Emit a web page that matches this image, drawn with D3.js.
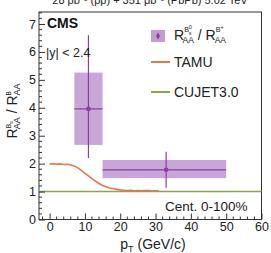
<!DOCTYPE html>
<html><head><meta charset="utf-8">
<script src="https://cdn.jsdelivr.net/npm/d3@7"></script>
<style>body{margin:0;background:#fff}svg{display:block;font-family:"Liberation Sans",Arial,sans-serif}</style>
</head><body>
<svg id="c" width="271" height="253"></svg>
<script>
// Data
const xTicks = [0,10,20,30,40,50,60];
const yTicks = [0,1,2,3,4,5,6,7];
const ptCenters = [11, 33];
const ptLow = [7, 15];
const ptHigh = [15, 50];
const ratio = [3.96, 1.78];
const statLow = [2.2, 1.14];
const statHigh = [6.6, 2.43];
const systLow = [2.67, 1.48];
const systHigh = [5.26, 2.13];
const tamuX = [0,1,2,3,4,5,6,7,8,9,10,11,12,13,14,15,16,17,18,19,20,21,22,23,24,25,26,27,28,29,30,31];
const tamuY = [1.99,2.0,1.98,1.99,1.97,1.98,1.95,1.92,1.85,1.76,1.65,1.56,1.46,1.37,1.29,1.22,1.17,1.13,1.10,1.08,1.06,1.05,1.04,1.045,1.03,1.04,1.03,1.035,1.04,1.03,1.03,1.02];
const cujetX = [-3, 60];
const cujetY = [1, 1];

const svg = d3.select("#c");
const x = d3.scaleLinear().domain([-3, 60]).range([39, 261.5]);
const y = d3.scaleLinear().domain([0, 7.43]).range([219.5, 12]);
const purple = "#8b3f9e", boxFill = "#c39cd4", orange = "#e07a4e", green = "#8ba64b";

// top header (cut off at top edge, as in the reference)
svg.append("text").attr("x", 150).attr("y", 3.5).attr("text-anchor","middle").attr("font-size", 11).attr("fill","#222")
  .text("28 pb\u207B\u00B9 (pp) + 351 \u03BCb\u207B\u00B9 (PbPb) 5.02 TeV");

// frame
svg.append("rect").attr("x", x(-3)).attr("y", y(7.43)).attr("width", x(60)-x(-3)).attr("height", y(0)-y(7.43))
  .attr("fill","none").attr("stroke","#333").attr("stroke-width",1);

// CUJET
svg.append("line").attr("x1", x(cujetX[0])).attr("x2", x(cujetX[1])).attr("y1", y(cujetY[0])).attr("y2", y(cujetY[1]))
  .attr("stroke", green).attr("stroke-width", 1.6);

// TAMU
svg.append("path").datum(tamuX.map((v,i)=>[v,tamuY[i]]))
  .attr("d", d3.line().x(d=>x(d[0])).y(d=>y(d[1])))
  .attr("fill","none").attr("stroke", orange).attr("stroke-width", 1.6);

// syst boxes + stat bars
const g = svg.append("g");
ptCenters.forEach((c,i)=>{
  g.append("rect").attr("x", x(ptLow[i])).attr("y", y(systHigh[i])).attr("width", x(ptHigh[i])-x(ptLow[i]))
    .attr("height", y(systLow[i])-y(systHigh[i])).attr("fill", boxFill).attr("opacity",0.9);
  g.append("line").attr("x1", x(ptLow[i])).attr("x2", x(ptHigh[i])).attr("y1", y(ratio[i])).attr("y2", y(ratio[i]))
    .attr("stroke", purple).attr("stroke-width", 1.2);
  g.append("line").attr("x1", x(c)).attr("x2", x(c)).attr("y1", y(statLow[i])).attr("y2", y(statHigh[i]))
    .attr("stroke", purple).attr("stroke-width", 1.2);
  g.append("circle").attr("cx", x(c)).attr("cy", y(ratio[i])).attr("r", 2.3).attr("fill", purple);
});

// Axes (ticks inward)
const xAxis = d3.axisBottom(x).tickValues(xTicks).tickSize(-6).tickPadding(3);
const xMinor = d3.range(-2, 60, 2).filter(v=>v%10!==0);
const ax = svg.append("g").attr("transform",`translate(0,${y(0)})`).call(xAxis);
ax.select(".domain").remove();
ax.selectAll("text").attr("font-size",12.5).attr("fill","#222").attr("font-family","Liberation Sans, Arial, sans-serif");
ax.selectAll("line").attr("stroke","#333");
svg.append("g").selectAll("line").data(xMinor).join("line")
  .attr("x1",d=>x(d)).attr("x2",d=>x(d)).attr("y1",y(0)).attr("y2",y(0)-3).attr("stroke","#333");

const yAxis = d3.axisLeft(y).tickValues(yTicks).tickSize(-6).tickPadding(3);
const ay = svg.append("g").attr("transform",`translate(${x(-3)},0)`).call(yAxis);
ay.select(".domain").remove();
ay.selectAll("text").attr("font-size",12.5).attr("fill","#222").attr("font-family","Liberation Sans, Arial, sans-serif");
ay.selectAll("line").attr("stroke","#333");
const yMinor = d3.range(0.2, 7.41, 0.2).filter(v=>Math.abs(v-Math.round(v))>0.01);
svg.append("g").selectAll("line").data(yMinor).join("line")
  .attr("x1",x(-3)).attr("x2",x(-3)+3).attr("y1",d=>y(d)).attr("y2",d=>y(d)).attr("stroke","#333");

// Texts
svg.append("text").attr("x",47).attr("y",28).attr("font-size",14).attr("font-weight","bold").attr("fill","#111").text("CMS");
svg.append("text").attr("x",46).attr("y",57).attr("font-size",12.5).attr("fill","#222").text("|y| < 2.4");
svg.append("text").attr("x",165).attr("y",211).attr("font-size",13.5).attr("fill","#222").text("Cent. 0-100%");

// x title
const xt = svg.append("text").attr("x",153).attr("y",249).attr("text-anchor","middle").attr("font-size",14).attr("fill","#222");
xt.append("tspan").text("p");
xt.append("tspan").attr("font-size",9).attr("dy",3).text("T");
xt.append("tspan").attr("dy",-3).text(" (GeV/c)");

// y title
const yt = svg.append("text").attr("transform","translate(17,111) rotate(-90)").attr("text-anchor","middle").attr("font-size",14).attr("fill","#222");
yt.append("tspan").text("R");
yt.append("tspan").attr("font-size",6.5).attr("dy",-6).text("B");
yt.append("tspan").attr("font-size",5.5).attr("dy",2).text("s");
yt.append("tspan").attr("font-size",9).attr("dx",-8).attr("dy",7).text("AA");
yt.append("tspan").attr("dy",-3).text(" / R");
yt.append("tspan").attr("font-size",6.5).attr("dy",-6).text("B");
yt.append("tspan").attr("font-size",9).attr("dx",-4.5).attr("dy",9).text("AA");

// Legend
svg.append("rect").attr("x",151).attr("y",30).attr("width",14).attr("height",12).attr("fill",boxFill);
svg.append("path").attr("d", d3.symbol(d3.symbolDiamond, 14)()).attr("transform","translate(158,36)").attr("fill",purple);
const lt = svg.append("text").attr("x",174).attr("y",40).attr("font-size",14).attr("fill","#222");
lt.append("tspan").text("R");
lt.append("tspan").attr("font-size",7).attr("dy",-8).text("B");
lt.append("tspan").attr("font-size",5.5).attr("dy",-3).text("0");
lt.append("tspan").attr("font-size",5.5).attr("dx",-3).attr("dy",6).text("s");
lt.append("tspan").attr("font-size",8.5).attr("dx",-9).attr("dy",8).text("AA");
lt.append("tspan").attr("dy",-3).text(" / R");
lt.append("tspan").attr("font-size",7).attr("dy",-8).text("B");
lt.append("tspan").attr("font-size",5.5).attr("dy",-3).text("+");
lt.append("tspan").attr("font-size",8.5).attr("dx",-9).attr("dy",14).text("AA");

svg.append("line").attr("x1",151).attr("x2",170).attr("y1",62).attr("y2",62).attr("stroke",orange).attr("stroke-width",2);
svg.append("text").attr("x",174).attr("y",67).attr("font-size",14).attr("fill","#222").text("TAMU");
svg.append("line").attr("x1",151).attr("x2",170).attr("y1",92).attr("y2",92).attr("stroke",green).attr("stroke-width",2);
svg.append("text").attr("x",174).attr("y",97).attr("font-size",14).attr("fill","#222").text("CUJET3.0");
</script>
</body></html>
